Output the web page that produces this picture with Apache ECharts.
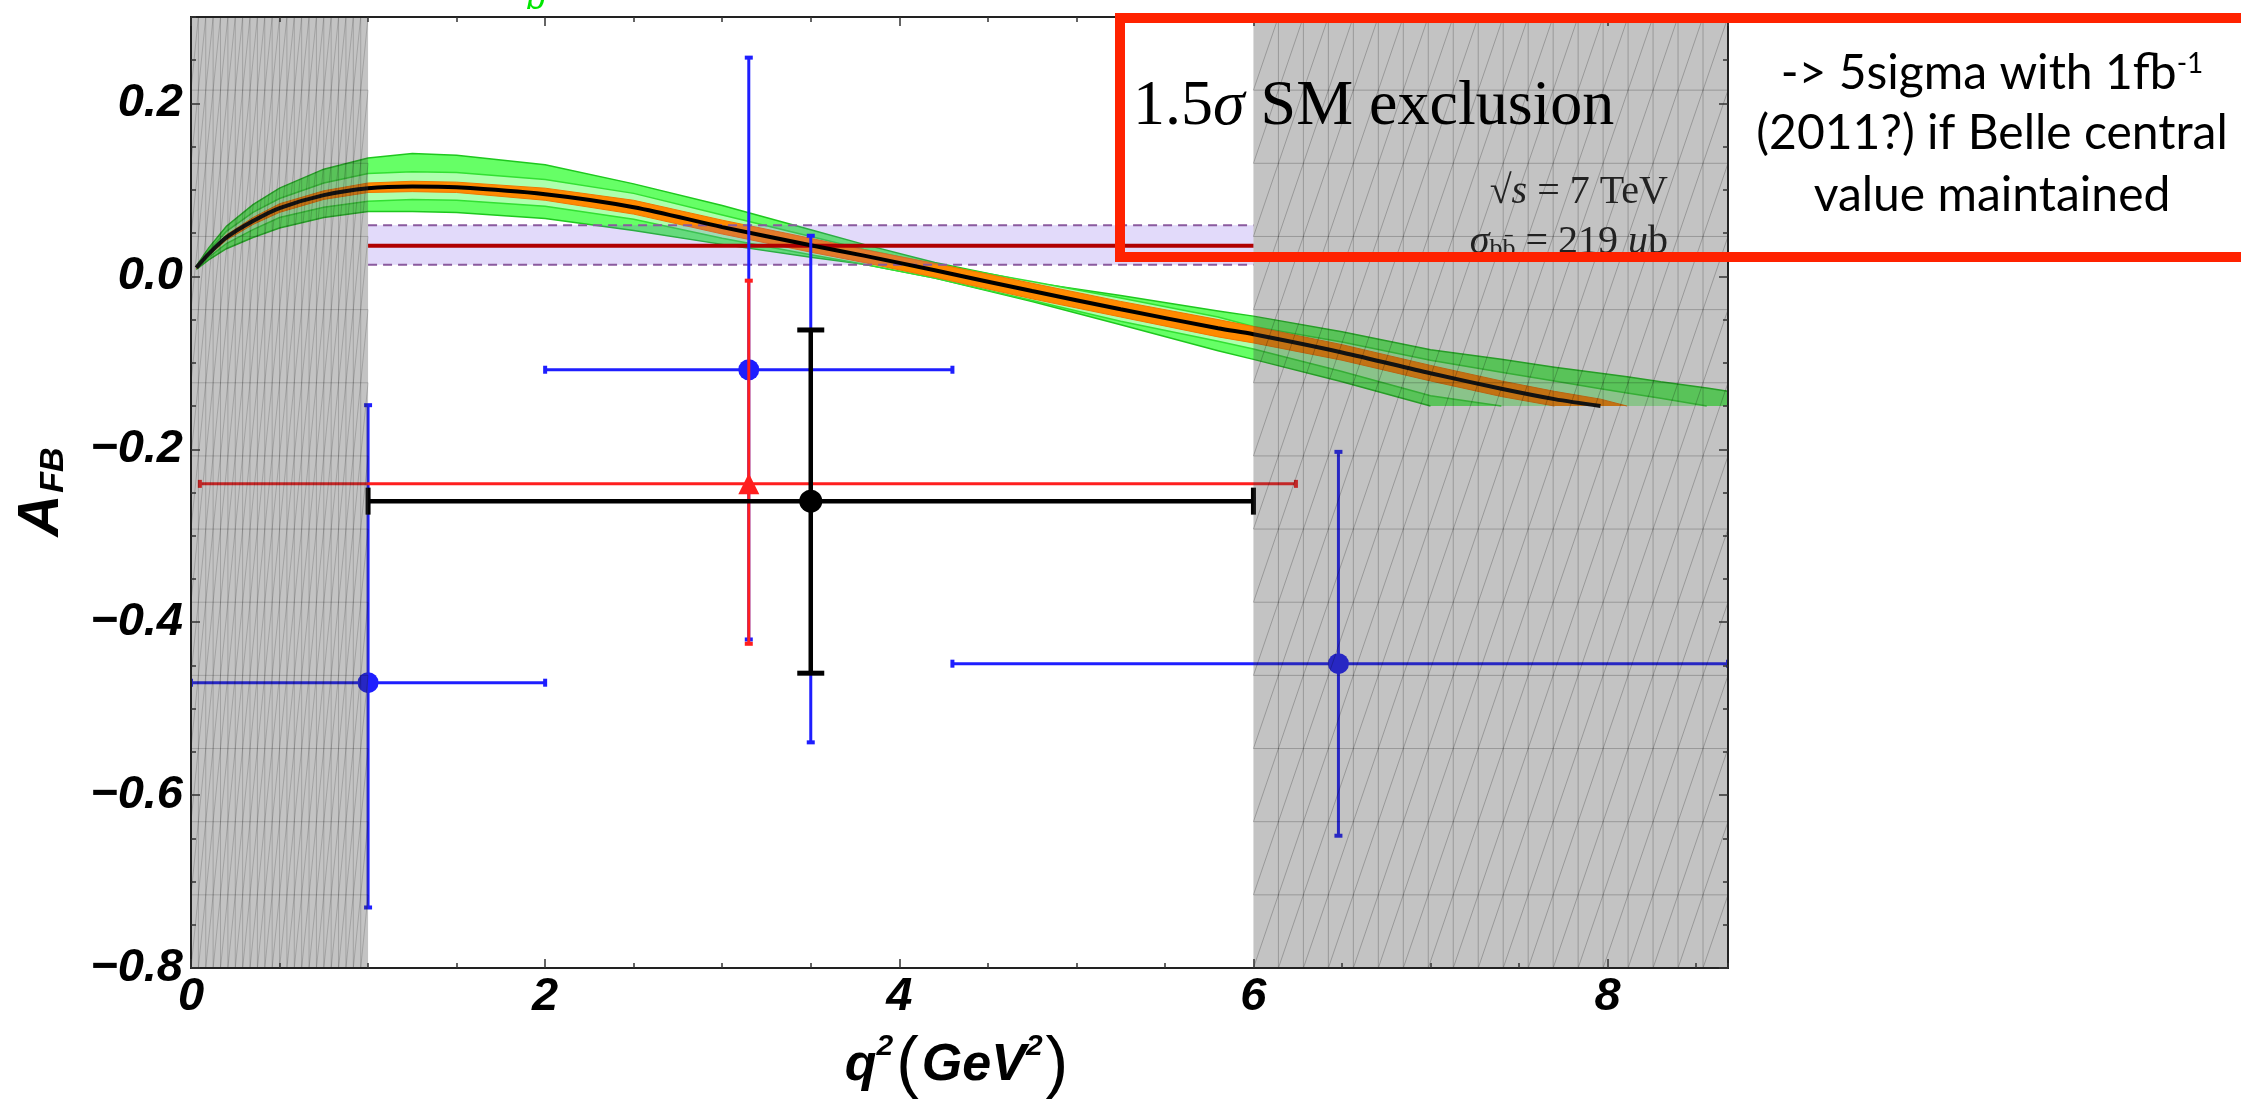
<!DOCTYPE html>
<html>
<head>
<meta charset="utf-8">
<script src="https://cdn.jsdelivr.net/npm/echarts@6/dist/echarts.min.js"></script>
<style>
  html, body { margin: 0; padding: 0; background: #fff; }
  #chart { width: 2241px; height: 1102px; }
</style>
</head>
<body>
<div id="chart"></div>
<script>
// ---- axis ranges ----
const X_MIN = 0, X_MAX = 8.68;
const Y_MIN = -0.8, Y_MAX = 0.3;
const BAND_FLOOR = -0.15;   // the theory bands are cut at this A_FB value

// ---- SM prediction for A_FB(q^2) ----
const q2 = [0.03, 0.1, 0.2, 0.35, 0.5, 0.75, 1.0, 1.25, 1.5, 2.0, 2.5, 3.0, 3.5, 3.8,
            4.2, 4.75, 5.25, 5.8, 6.0, 6.5, 7.0, 7.4, 7.7, 7.96, 8.11, 8.3, 8.56, 8.68];
const smCentral = [0.010, 0.026, 0.045, 0.064, 0.079, 0.094, 0.102, 0.104, 0.103, 0.095, 0.080, 0.057, 0.036, 0.024,
                   0.007, -0.017, -0.038, -0.060, -0.067, -0.088, -0.112, -0.130, -0.142, -0.150, null, null, null, null];
const orangeHi = [0.011, 0.028, 0.048, 0.068, 0.084, 0.099, 0.108, 0.110, 0.109, 0.102, 0.088, 0.065, 0.044, 0.031,
                  0.015, -0.008, -0.029, -0.050, -0.058, -0.079, -0.103, -0.121, -0.133, -0.142, -0.150, null, null, null];
const orangeLo = [0.009, 0.024, 0.042, 0.060, 0.074, 0.089, 0.097, 0.098, 0.097, 0.088, 0.072, 0.049, 0.028, 0.016,
                  -0.001, -0.026, -0.047, -0.070, -0.077, -0.097, -0.121, -0.139, -0.150, -0.150, -0.150, null, null, null];
const innerHi = [0.011, 0.030, 0.052, 0.074, 0.090, 0.108, 0.119, 0.121, 0.120, 0.112, 0.096, 0.071, 0.046, 0.031,
                 0.014, -0.006, -0.025, -0.047, -0.058, -0.076, -0.097, -0.111, -0.121, -0.130, -0.135, -0.141, -0.150, null];
const innerLo = [0.009, 0.022, 0.038, 0.054, 0.068, 0.080, 0.087, 0.089, 0.088, 0.081, 0.066, 0.044, 0.025, 0.014,
                 -0.002, -0.028, -0.052, -0.075, -0.084, -0.110, -0.138, -0.150, -0.150, -0.150, -0.150, -0.150, -0.150, null];
const outerHi = [0.012, 0.033, 0.058, 0.083, 0.102, 0.124, 0.137, 0.142, 0.140, 0.129, 0.107, 0.082, 0.054, 0.037,
                 0.016, -0.007, -0.022, -0.040, -0.046, -0.064, -0.085, -0.096, -0.105, -0.112, -0.116, -0.122, -0.129, -0.133];
const outerLo = [0.008, 0.019, 0.032, 0.045, 0.056, 0.068, 0.075, 0.075, 0.074, 0.067, 0.053, 0.037, 0.022, 0.014,
                 -0.002, -0.029, -0.056, -0.086, -0.096, -0.122, -0.150, -0.150, -0.150, -0.150, -0.150, -0.150, -0.150, -0.150];

// ---- SM exclusion band (1 < q^2 < 6) ----
const exclQ2 = [1, 6];
const exclAfb = [0.0135, 0.0354, 0.059];   // lower edge, central, upper edge

// ---- shaded q^2 regions ----
const vetoLo = [0, 6];
const vetoHi = [1, 8.68];

// ---- measurements: [q2, afb, q2 low, q2 high, afb low, afb high] ----
const blueQ2   = [1.0, 3.15, 3.5, 6.48];
const blueAfb  = [-0.470, -0.108, -0.260, -0.448];
const blueQ2Lo = [0, 2.0, 1.0, 4.3];
const blueQ2Hi = [2.0, 4.3, 6.0, 8.68];
const blueAfbLo = [-0.730, -0.420, -0.539, -0.647];
const blueAfbHi = [-0.149, 0.253, 0.047, -0.203];

const redQ2 = [3.15], redAfb = [-0.240], redQ2Lo = [0.05], redQ2Hi = [6.24], redAfbLo = [-0.425], redAfbHi = [-0.005];
const blackQ2 = [3.5], blackAfb = [-0.260], blackQ2Lo = [1.0], blackQ2Hi = [6.0], blackAfbLo = [-0.459], blackAfbHi = [-0.062];

// ---- tick spacing ----
const xTickStep = 2, xMinorStep = 0.5;
const yTickStep = 0.2, yMinorStep = 0.05;

// ---------------------------------------------------------------
const MESH_ROWS = 13;
const meshCols = [24, 19];
const meshAlpha = [0.17, 0.22];

function zipRows(cols) {
  return cols[0].map((_, i) => cols.map(c => c[i]));
}

function edgeLines(pts, vals) {
  const out = [];
  let cur = null;
  for (let i = 0; i < pts.length - 1; i++) {
    const flat = vals[i] <= BAND_FLOOR && vals[i + 1] <= BAND_FLOOR;
    if (flat) { cur = null; continue; }
    if (!cur) { cur = [pts[i]]; out.push(cur); }
    cur.push(pts[i + 1]);
  }
  return out;
}

function bandRender(hi, lo, fill, edge, edgeWidth) {
  return function (params, api) {
    const top = [], bot = [], topV = [], botV = [];
    for (let i = 0; i < q2.length; i++) {
      if (hi[i] == null || lo[i] == null) continue;
      top.push(api.coord([q2[i], hi[i]]));
      bot.push(api.coord([q2[i], lo[i]]));
      topV.push(hi[i]); botV.push(lo[i]);
    }
    const children = [{
      type: 'polygon',
      shape: { points: top.concat(bot.slice().reverse()) },
      style: { fill: fill, stroke: null }
    }];
    if (edge) {
      edgeLines(top, topV).concat(edgeLines(bot, botV)).forEach(seg => {
        children.push({ type: 'polyline', shape: { points: seg },
          style: { stroke: edge, lineWidth: edgeWidth, fill: null } });
      });
    }
    return { type: 'group', children: children };
  };
}

function exclusionRender(params, api) {
  const a = api.coord([exclQ2[0], exclAfb[2]]);
  const b = api.coord([exclQ2[1], exclAfb[0]]);
  const m0 = api.coord([exclQ2[0], exclAfb[1]]);
  const m1 = api.coord([exclQ2[1], exclAfb[1]]);
  const dash = { stroke: '#8a5a9e', lineWidth: 2, lineDash: [9, 6], fill: null };
  return {
    type: 'group',
    children: [
      { type: 'rect', shape: { x: a[0], y: a[1], width: b[0] - a[0], height: b[1] - a[1] },
        style: { fill: 'rgba(100,60,230,0.19)' } },
      { type: 'line', shape: { x1: a[0], y1: a[1], x2: b[0], y2: a[1] }, style: dash },
      { type: 'line', shape: { x1: a[0], y1: b[1], x2: b[0], y2: b[1] }, style: dash },
      { type: 'line', shape: { x1: m0[0], y1: m0[1], x2: m1[0], y2: m1[1] },
        style: { stroke: '#b00000', lineWidth: 4 } }
    ]
  };
}

function vetoRender(params, api) {
  const a = api.coord([api.value(0), Y_MAX]);
  const b = api.coord([api.value(1), Y_MIN]);
  const x0 = a[0], y0 = a[1], x1 = b[0], y1 = b[1];
  const cols = meshCols[params.dataIndex];
  const cw = (x1 - x0) / cols, rh = (y1 - y0) / MESH_ROWS;
  let d = '';
  for (let r = 1; r < MESH_ROWS; r++) {
    const y = y0 + r * rh;
    d += 'M' + x0 + ' ' + y + 'L' + x1 + ' ' + y;
  }
  for (let c = 1; c < cols; c++) {
    const x = x0 + c * cw;
    d += 'M' + x + ' ' + y0 + 'L' + x + ' ' + y1;
  }
  for (let r = 0; r < MESH_ROWS; r++) {
    for (let c = 0; c < cols; c++) {
      d += 'M' + (x0 + c * cw) + ' ' + (y0 + (r + 1) * rh) + 'L' + (x0 + (c + 1) * cw) + ' ' + (y0 + r * rh);
    }
  }
  return {
    type: 'group',
    children: [
      { type: 'rect', shape: { x: x0, y: y0, width: x1 - x0, height: y1 - y0 },
        style: { fill: 'rgba(61,61,61,0.31)' } },
      { type: 'path', shape: { pathData: d },
        style: { stroke: 'rgba(0,0,0,' + meshAlpha[params.dataIndex] + ')', lineWidth: 1, fill: null } }
    ]
  };
}

function errRender(st) {
  return function (params, api) {
    const x = api.value(0), y = api.value(1);
    const c = api.coord([x, y]);
    const l = api.coord([api.value(2), y]), r = api.coord([api.value(3), y]);
    const b = api.coord([x, api.value(4)]), t = api.coord([x, api.value(5)]);
    const h = st.cap / 2;
    const ls = { stroke: st.color, lineWidth: st.width };
    const cs = { stroke: st.color, lineWidth: st.capWidth };
    const children = [
      { type: 'line', shape: { x1: l[0], y1: l[1], x2: r[0], y2: r[1] }, style: ls },
      { type: 'line', shape: { x1: b[0], y1: b[1], x2: t[0], y2: t[1] }, style: ls },
      { type: 'line', shape: { x1: l[0], y1: l[1] - h, x2: l[0], y2: l[1] + h }, style: cs },
      { type: 'line', shape: { x1: r[0], y1: r[1] - h, x2: r[0], y2: r[1] + h }, style: cs },
      { type: 'line', shape: { x1: b[0] - h, y1: b[1], x2: b[0] + h, y2: b[1] }, style: cs },
      { type: 'line', shape: { x1: t[0] - h, y1: t[1], x2: t[0] + h, y2: t[1] }, style: cs }
    ];
    if (st.marker === 'triangle') {
      const s = st.size;
      children.push({ type: 'polygon',
        shape: { points: [[c[0], c[1] - s], [c[0] - s, c[1] + s], [c[0] + s, c[1] + s]] },
        style: { fill: st.color } });
    } else {
      children.push({ type: 'circle', shape: { cx: c[0], cy: c[1], r: st.size },
        style: { fill: st.color } });
    }
    return { type: 'group', children: children };
  };
}

const tickFont = { fontFamily: 'Liberation Sans', fontStyle: 'italic', fontWeight: 'bold', fontSize: 47, color: '#000' };

function xAxisDef(pos, step, tickLen, showLabel) {
  return {
    type: 'value', position: pos, min: X_MIN, max: X_MAX, interval: step, z: 10,
    axisLine: { show: true, onZero: false, lineStyle: { color: '#222', width: 2 } },
    axisTick: { show: true, inside: true, length: tickLen, lineStyle: { color: '#333', width: 1.5 } },
    splitLine: { show: false },
    axisLabel: showLabel ? Object.assign({
      show: true, margin: 6, showMaxLabel: false,
      formatter: v => (Math.abs(v - Math.round(v)) < 1e-9 ? String(Math.round(v)) : '')
    }, tickFont) : { show: false }
  };
}
function yAxisDef(pos, step, tickLen, showLabel) {
  return {
    type: 'value', position: pos, min: Y_MIN, max: Y_MAX, interval: step, z: 10,
    axisLine: { show: true, onZero: false, lineStyle: { color: '#222', width: 2 } },
    axisTick: { show: true, inside: true, length: tickLen, lineStyle: { color: '#333', width: 1.5 } },
    splitLine: { show: false },
    axisLabel: showLabel ? Object.assign({
      show: true, margin: 8, showMaxLabel: false,
      formatter: v => (Math.abs(v) < 1e-9 ? '0.0' : (v < 0 ? '\u2212' : '') + Math.abs(v).toFixed(1))
    }, tickFont) : { show: false }
  };
}

const chart = echarts.init(document.getElementById('chart'), null, { renderer: 'canvas' });

const serifRich = {
  n: { fontFamily: 'Liberation Serif', fontSize: 64, fill: '#000', color: '#000' },
  s: { fontFamily: 'Liberation Serif', fontStyle: 'italic', fontSize: 64, fill: '#000', color: '#000' }
};
const smallSerif = {
  n: { fontFamily: 'Liberation Serif', fontSize: 40, fill: '#222', color: '#222' },
  i: { fontFamily: 'Liberation Serif', fontStyle: 'italic', fontSize: 40, fill: '#222', color: '#222' },
  sub: { fontFamily: 'Liberation Serif', fontSize: 26, fill: '#222', color: '#222', verticalAlign: 'bottom' }
};
const noteFont = { fontFamily: 'Lato', fontSize: 48, fill: '#000', color: '#000' };

chart.setOption({
  animation: false,
  backgroundColor: '#fff',
  grid: { left: 191, top: 17, right: 513, bottom: 134, containLabel: false, outerBoundsMode: 'none' },
  xAxis: [
    xAxisDef('bottom', xMinorStep, 5, false),
    xAxisDef('bottom', xTickStep, 9, true),
    xAxisDef('top', xMinorStep, 5, false),
    xAxisDef('top', xTickStep, 9, false)
  ],
  yAxis: [
    yAxisDef('left', yMinorStep, 5, false),
    yAxisDef('left', yTickStep, 9, true),
    yAxisDef('right', yMinorStep, 5, false),
    yAxisDef('right', yTickStep, 9, false)
  ],
  series: [
    { type: 'custom', name: 'outer band', z: 2, clip: true, data: [[0, 0]],
      renderItem: bandRender(outerHi, outerLo, '#66ff66', '#1ec81e', 1.5) },
    { type: 'custom', name: 'inner band', z: 2, clip: true, data: [[0, 0]],
      renderItem: bandRender(innerHi, innerLo, '#adffad', '#33e033', 1.5) },
    { type: 'custom', name: 'orange band', z: 2, clip: true, data: [[0, 0]],
      renderItem: bandRender(orangeHi, orangeLo, '#ff8a00', '#f07800', 1) },
    { type: 'custom', name: 'SM exclusion', z: 3, clip: true, data: [[0, 0]],
      renderItem: exclusionRender },
    { type: 'line', name: 'SM central', z: 4, showSymbol: false, smooth: 0.3, clip: true,
      data: zipRows([q2, smCentral]).filter(d => d[1] != null),
      lineStyle: { color: '#000', width: 4 } },
    { type: 'custom', name: 'blue', z: 5, clip: true,
      data: zipRows([blueQ2, blueAfb, blueQ2Lo, blueQ2Hi, blueAfbLo, blueAfbHi]),
      renderItem: errRender({ color: '#1e1eff', width: 3, cap: 8, capWidth: 4, marker: 'circle', size: 10.5 }) },
    { type: 'custom', name: 'red', z: 6, clip: true,
      data: zipRows([redQ2, redAfb, redQ2Lo, redQ2Hi, redAfbLo, redAfbHi]),
      renderItem: errRender({ color: '#ff1e1e', width: 3, cap: 8, capWidth: 4, marker: 'triangle', size: 10.5 }) },
    { type: 'custom', name: 'black', z: 7, clip: true,
      data: zipRows([blackQ2, blackAfb, blackQ2Lo, blackQ2Hi, blackAfbLo, blackAfbHi]),
      renderItem: errRender({ color: '#000', width: 4.5, cap: 27, capWidth: 5, marker: 'circle', size: 11.5 }) },
    { type: 'custom', name: 'veto', z: 8, clip: true,
      data: zipRows([vetoLo, vetoHi]),
      renderItem: vetoRender }
  ],
  graphic: [
    { type: 'text', x: 536, y: 17, z: 20,
      style: { text: 'b', fontFamily: 'Liberation Sans', fontStyle: 'italic', fontSize: 34, fill: '#00e600',
               textAlign: 'center', align: 'center', textVerticalAlign: 'bottom', verticalAlign: 'bottom' } },
    { type: 'text', x: 42, y: 492, rotation: Math.PI / 2, z: 20,
      style: { text: '{a|A}{s|FB}', textAlign: 'center', align: 'center', textVerticalAlign: 'middle', verticalAlign: 'middle',
        rich: {
          a: { fontFamily: 'Liberation Sans', fontStyle: 'italic', fontWeight: 'bold', fontSize: 58, fill: '#000', color: '#000' },
          s: { fontFamily: 'Liberation Sans', fontStyle: 'italic', fontWeight: 'bold', fontSize: 34, fill: '#000', color: '#000',
               verticalAlign: 'bottom', padding: [0, 0, 0, 2] }
        } } },
    { type: 'text', x: 958, y: 1066, z: 20,
      style: { text: '{q|q}{sup|2}{p|(}{g|GeV}{sup|2}{p|)}', textAlign: 'center', align: 'center',
        textVerticalAlign: 'middle', verticalAlign: 'middle',
        rich: {
          q: { fontFamily: 'Liberation Sans', fontStyle: 'italic', fontWeight: 'bold', fontSize: 52, fill: '#000', color: '#000' },
          g: { fontFamily: 'Liberation Sans', fontStyle: 'italic', fontWeight: 'bold', fontSize: 52, fill: '#000', color: '#000' },
          sup: { fontFamily: 'Liberation Sans', fontStyle: 'italic', fontWeight: 'bold', fontSize: 30, fill: '#000', color: '#000',
                 verticalAlign: 'top' },
          p: { fontFamily: 'Liberation Sans', fontSize: 68, fill: '#000', color: '#000', padding: [0, 3, 0, 3] }
        } } },
    { type: 'text', x: 1133, y: 107, z: 30,
      style: { text: '{n|1.5}{s|σ}{n| SM exclusion}', textAlign: 'left', align: 'left',
               textVerticalAlign: 'middle', verticalAlign: 'middle', rich: serifRich } },
    { type: 'text', x: 1668, y: 192, z: 30,
      style: { text: '{n|√}{i|s}{n| = 7 TeV}', textAlign: 'right', align: 'right',
               textVerticalAlign: 'middle', verticalAlign: 'middle', rich: smallSerif } },
    { type: 'text', x: 1668, y: 242, z: 30,
      style: { text: '{i|σ}{sub|bb\u0304}{n| = 219 }{i|u}{n|b}', textAlign: 'right', align: 'right',
               textVerticalAlign: 'middle', verticalAlign: 'middle', rich: smallSerif } },
    { type: 'rect', z: 40,
      shape: { x: 1120, y: 18, width: 1200, height: 239 },
      style: { fill: null, stroke: '#ff2200', lineWidth: 10 } },
    { type: 'text', x: 1992, y: 74, z: 30,
      style: { text: '{t|-> 5sigma with 1fb}{sup|-1}', textAlign: 'center', align: 'center',
               textVerticalAlign: 'middle', verticalAlign: 'middle',
               rich: { t: noteFont, sup: { fontFamily: 'Lato', fontSize: 28, fill: '#000', color: '#000', verticalAlign: 'top' } } } },
    { type: 'text', x: 1992, y: 134, z: 30,
      style: { text: '(2011?) if Belle central', textAlign: 'center', align: 'center',
               textVerticalAlign: 'middle', verticalAlign: 'middle',
               fontFamily: 'Lato', fontSize: 48, fill: '#000' } },
    { type: 'text', x: 1992, y: 196, z: 30,
      style: { text: 'value maintained', textAlign: 'center', align: 'center',
               textVerticalAlign: 'middle', verticalAlign: 'middle',
               fontFamily: 'Lato', fontSize: 48, fill: '#000' } }
  ]
});
</script>
</body>
</html>
